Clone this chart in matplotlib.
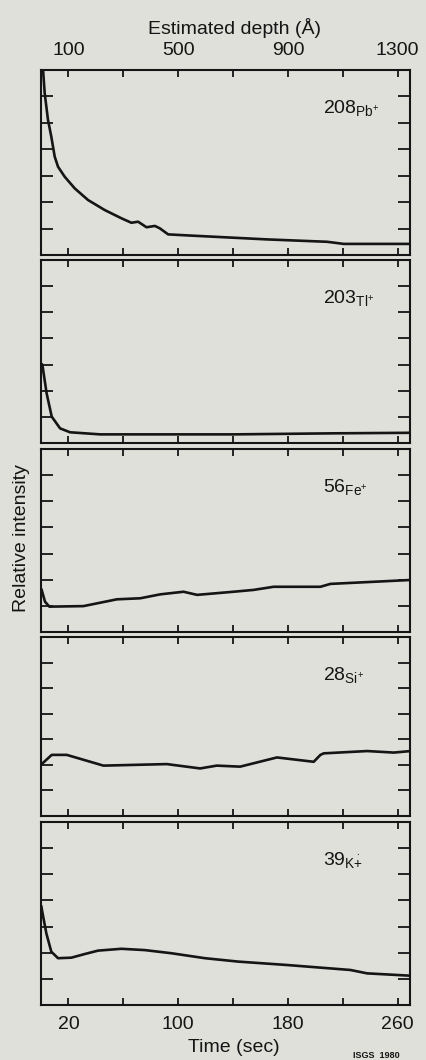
import numpy as np
import matplotlib
matplotlib.use('Agg')
import matplotlib.pyplot as plt

plt.rcParams['font.family'] = ['Liberation Sans', 'DejaVu Sans']
plt.rcParams['mathtext.fontset'] = 'custom'
plt.rcParams['mathtext.rm'] = 'Liberation Sans'
plt.rcParams['mathtext.it'] = 'Liberation Sans:italic'

# time (sec) and relative intensity
t_pb = [1.0, 1.5, 2.7, 5.1, 7.5, 10.0, 12.4, 17.3, 24.6, 34.3, 46.5, 58.6, 65.9,
        70.8, 76.9, 83.0, 86.6, 92.7, 107.3, 164.8, 208.6, 220.7, 269.4]
i_pb = [8.5, 7.0, 6.12, 5.11, 4.48, 3.72, 3.34, 2.96, 2.52, 2.08, 1.70, 1.39, 1.22,
        1.26, 1.05, 1.10, 1.01, 0.78, 0.74, 0.59, 0.50, 0.42, 0.42]

t_tl = [0.8, 1.2, 4.1, 7.8, 13.9, 21.2, 43.1, 140.4, 213.4, 269.4]
i_tl = [3.0, 2.92, 1.90, 1.01, 0.56, 0.41, 0.33, 0.33, 0.37, 0.39]

t_fe = [0.5, 2.9, 6.1, 30.9, 55.3, 72.4, 86.9, 103.9, 113.8, 140.4, 155, 169.6,
        203.7, 211, 269.4]
i_fe = [1.61, 1.16, 0.97, 0.99, 1.25, 1.29, 1.44, 1.54, 1.42, 1.54, 1.61, 1.73,
        1.73, 1.84, 1.99]

t_si = [0.5, 7.8, 18.8, 45.5, 91.7, 116, 128.1, 145.2, 172, 198.8, 203.7, 206.1,
        237.8, 257.2, 269.4]
i_si = [2.03, 2.39, 2.39, 1.97, 2.03, 1.86, 1.97, 1.93, 2.29, 2.12, 2.39, 2.45,
        2.54, 2.48, 2.54]

t_k = [0.3, 0.7, 3.9, 7.5, 12.4, 22.1, 31.9, 41.6, 58.6, 75.7, 95.1, 119.5, 143.8,
       179.3, 225.5, 237.8, 269.4]
i_k = [3.76, 3.63, 2.74, 2.04, 1.79, 1.81, 1.95, 2.08, 2.15, 2.10, 1.98, 1.79, 1.66,
       1.53, 1.34, 1.21, 1.12]

labels = [r'208$_{\mathrm{Pb}^{+}}$', r'203$_{\mathrm{Tl}^{+}}$',
          r'56$_{\mathrm{Fe}^{+}}$', r'28$_{\mathrm{Si}^{+}}$',
          r'39$_{\mathrm{K}\overset{\bullet}{+}}$']
series = [(t_pb, i_pb), (t_tl, i_tl), (t_fe, i_fe), (t_si, i_si), (t_k, i_k)]

time_ticks = [20, 60, 100, 140, 180, 220, 260]
time_labels = ['20', '', '100', '', '180', '', '260']
depth_ticks = [100, 500, 900, 1300]

bg = '#dfe0da'
ink = '#151515'
W, H = 427, 1060
fs = 14
fig = plt.figure(figsize=(W / 100, H / 100), dpi=100, facecolor=bg)

# panel top/bottom in pixels
rows = [(70, 255), (260, 443), (449, 632), (637, 816), (822, 1005)]
left, right = 41, 410

for k, ((top, bot), (t, y), lab) in enumerate(zip(rows, series, labels)):
    ax = fig.add_axes([left / W, 1 - bot / H, (right - left) / W, (bot - top) / H])
    ax.set_facecolor(bg)
    ax.plot(t, y, color=ink, lw=1.9, solid_joinstyle='round')
    ax.set_xlim(0, 269)
    ax.set_ylim(0, 7)
    ax.set_xticks(time_ticks)
    ax.set_yticks([1, 2, 3, 4, 5, 6])
    ax.set_yticklabels([])
    ax.tick_params(axis='x', direction='in', length=5, width=1.3, top=True,
                   bottom=True, labelsize=fs, pad=8, colors=ink)
    ax.tick_params(axis='y', direction='in', length=8.5, width=1.3, left=True,
                   right=True, colors=ink)
    for s in ax.spines.values():
        s.set_linewidth(1.5)
        s.set_color(ink)
    if k == 4:
        ax.set_xticklabels(time_labels)
    else:
        ax.set_xticklabels([])
    if k == 0:
        sec = ax.secondary_xaxis('top', functions=(lambda x: 5 * x, lambda d: d / 5))
        sec.set_xticks(depth_ticks)
        sec.tick_params(length=0, labelsize=fs, pad=8, colors=ink)
        sec.spines['top'].set_visible(False)
    ax.text(0.765, 1 - 43 / (bot - top), lab, transform=ax.transAxes,
            fontsize=fs, color=ink, ha='left', va='baseline')

fig.text(235 / W, 1 - 28 / H, 'Estimated depth (Å)', ha='center', va='center',
         fontsize=fs, color=ink)
fig.text(234 / W, 1 - 1048 / H, 'Time (sec)', ha='center', va='center',
         fontsize=fs, color=ink)
fig.text(22 / W, 1 - 538 / H, 'Relative intensity', rotation=90, ha='center',
         va='center', fontsize=fs, color=ink)
fig.text(376 / W, 1 - 1055 / H, 'ISGS  1980', ha='center', va='center',
         fontsize=6.5, color=ink, fontweight='bold')

fig.savefig('out.png', dpi=100, facecolor=bg)
